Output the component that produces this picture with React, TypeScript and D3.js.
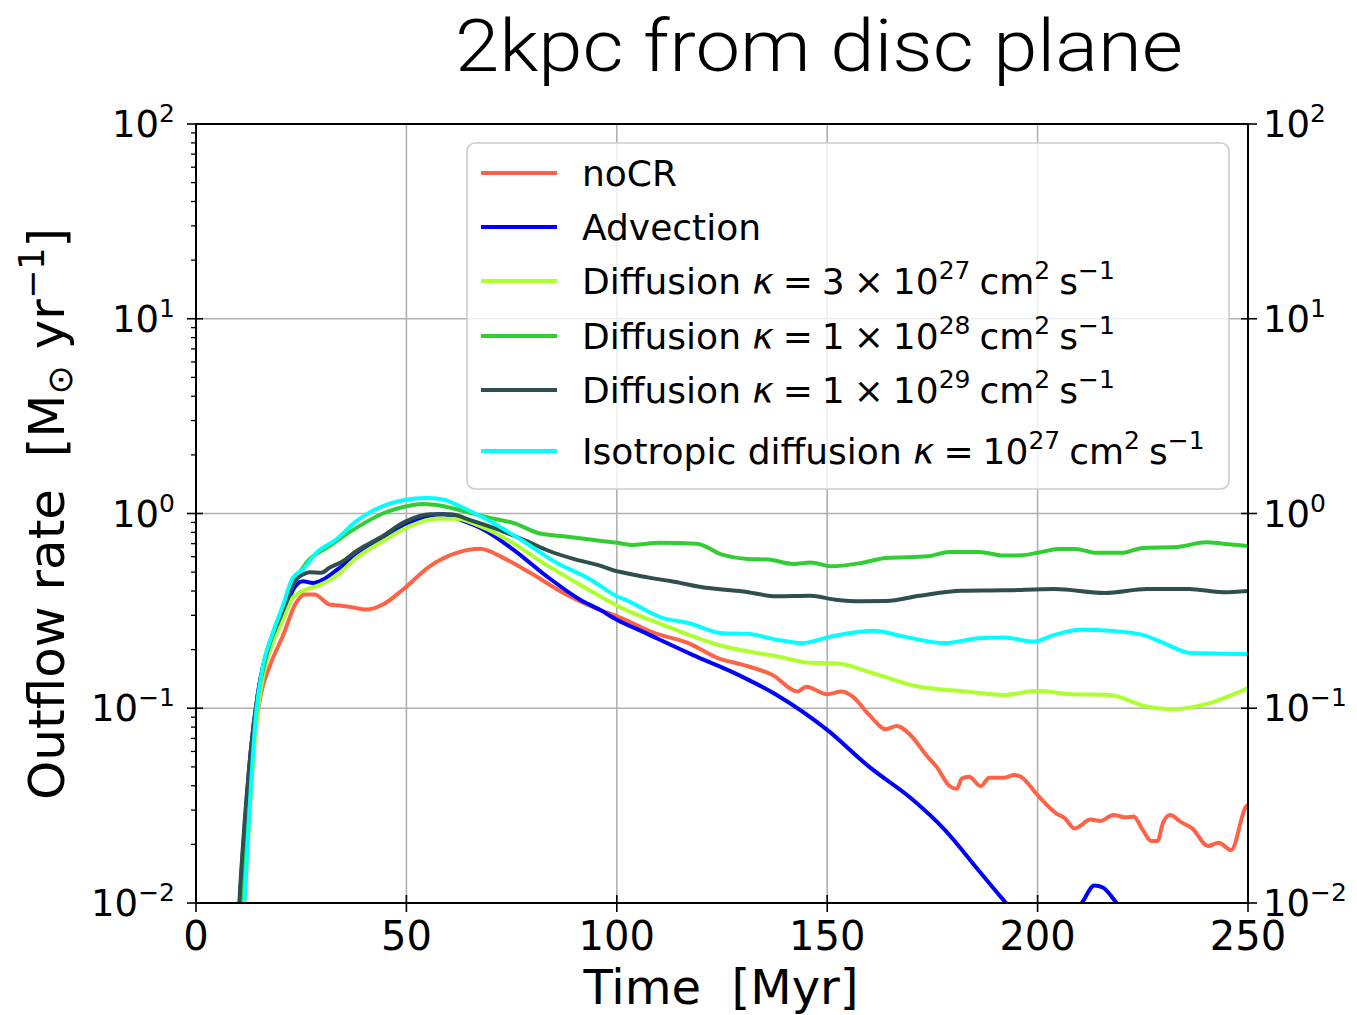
import React from 'react';
import * as d3 from 'd3';

type P = [number, number];

const xTickValues = [0, 50, 100, 150, 200, 250];
const yExponents = [-2, -1, 0, 1, 2];
const yMinorMantissas = [2, 3, 4, 5, 6, 7, 8, 9];

const noCR: P[] = [
  [10.3, 0.006], [10.8, 0.01], [12, 0.025], [13.5, 0.06], [15.5, 0.12], [17.5, 0.164], [20.6, 0.234],
  [23.8, 0.348], [25.8, 0.384], [28.2, 0.384], [31.7, 0.341], [34.1, 0.337], [37, 0.33], [40.5, 0.321],
  [44.4, 0.341], [49.2, 0.407], [55.6, 0.537], [61.9, 0.628], [67.5, 0.66], [73, 0.592], [79.4, 0.496],
  [87.3, 0.391], [96, 0.32], [100, 0.297], [109, 0.243], [117, 0.216], [124, 0.181], [130, 0.167],
  [137, 0.148], [143, 0.122], [145, 0.129], [150, 0.118], [153.5, 0.122], [156, 0.115], [160, 0.0924],
  [164, 0.078], [166.5, 0.081], [170, 0.072], [173.5, 0.0575], [176, 0.05], [179, 0.04], [180.8, 0.0386],
  [182, 0.0436], [183.7, 0.0445], [186.5, 0.0398], [188.5, 0.044], [192, 0.044], [194.5, 0.0454],
  [196, 0.0445], [200, 0.0358], [204.5, 0.0288], [206.5, 0.0272], [208.8, 0.0241], [210, 0.0248],
  [212.5, 0.0268], [215, 0.0264], [218, 0.0283], [221, 0.0275], [222.8, 0.0278], [225, 0.0237],
  [227, 0.0208], [228.5, 0.0208], [229.8, 0.0258], [231.5, 0.0283], [234, 0.0261], [236.8, 0.0241],
  [240.5, 0.0196], [243, 0.0204], [246, 0.0187], [249.5, 0.0312], [250, 0.032],
];

const advection: P[] = [
  [9.9, 0.006], [10.4, 0.01], [11.6, 0.025], [13, 0.06], [15, 0.13], [17, 0.2], [19, 0.26], [21.5, 0.34],
  [23.5, 0.42], [25.4, 0.449], [27.8, 0.44], [30.2, 0.458], [34.1, 0.526], [39.7, 0.641], [45.2, 0.765],
  [51.6, 0.914], [55.6, 0.977], [58.7, 0.99], [62.7, 0.93], [68.3, 0.828], [75.4, 0.653], [83.3, 0.477],
  [91.3, 0.361], [96, 0.32], [100, 0.285], [106, 0.248], [118, 0.188], [129, 0.148], [138, 0.117],
  [150, 0.0774], [160, 0.05], [170, 0.0344], [178, 0.0237], [186, 0.0147], [192.5, 0.01], [196, 0.0082],
  [202, 0.0072], [207, 0.0082], [210.5, 0.01], [213.5, 0.0123], [215.5, 0.012], [218.8, 0.01],
  [224, 0.0075], [235, 0.006], [250, 0.005],
];

const diff3e27: P[] = [
  [11.1, 0.006], [11.6, 0.01], [12.8, 0.03], [14.5, 0.09], [16, 0.15], [18, 0.21], [20.5, 0.28],
  [23, 0.369], [26.2, 0.407], [28.6, 0.423], [33.3, 0.477], [38.1, 0.592], [44.4, 0.721], [50.8, 0.861],
  [57.1, 0.939], [61.9, 0.939], [67.5, 0.861], [74.6, 0.721], [82.5, 0.558], [90.5, 0.44], [96, 0.376],
  [102, 0.321], [111, 0.268], [124, 0.212], [131, 0.196], [138, 0.185], [146, 0.171], [152, 0.17],
  [161, 0.151], [171, 0.13], [183, 0.122], [192, 0.117], [200, 0.123], [208, 0.118], [217, 0.117],
  [226, 0.102], [232, 0.0989], [240, 0.105], [250, 0.127],
];

const diff1e28: P[] = [
  [10.6, 0.006], [11.1, 0.01], [12.3, 0.03], [14, 0.09], [16, 0.16], [18.5, 0.25], [21, 0.34], [23.5, 0.45],
  [26.2, 0.558], [31.7, 0.68], [38.1, 0.844], [44.4, 1.0], [49.2, 1.08], [54, 1.12], [57.9, 1.1],
  [63.5, 1.03], [69.8, 0.95], [75.4, 0.895], [81.7, 0.79], [87.3, 0.765], [93.7, 0.735], [100, 0.707],
  [104, 0.69], [110, 0.707], [119, 0.7], [125, 0.615], [131, 0.584], [136, 0.58], [142, 0.551],
  [146, 0.56], [151, 0.536], [158, 0.557], [164, 0.591], [174, 0.603], [179, 0.635], [186, 0.635],
  [192, 0.608], [196, 0.61], [200, 0.628], [205, 0.658], [209, 0.658], [214, 0.628], [220, 0.628],
  [225, 0.666], [233, 0.673], [240, 0.712], [244, 0.7], [250, 0.68],
];

const diff1e29: P[] = [
  [9.8, 0.006], [10.3, 0.01], [11.5, 0.025], [13, 0.06], [15, 0.13], [17, 0.2], [19, 0.26], [21.5, 0.35],
  [23.5, 0.45], [25.4, 0.486], [27, 0.5], [29.8, 0.497], [31.7, 0.526], [34.9, 0.569], [38.1, 0.641],
  [43.7, 0.75], [50, 0.914], [55.6, 0.99], [60.3, 0.99], [65.9, 0.914], [71.4, 0.834], [78.6, 0.721],
  [84.1, 0.64], [89.7, 0.585], [96, 0.54], [100, 0.506], [102, 0.495], [109, 0.463], [113, 0.449],
  [120, 0.419], [130, 0.398], [138, 0.376], [146, 0.378], [152, 0.361], [158, 0.354], [164, 0.355],
  [172, 0.378], [182, 0.401], [192, 0.403], [204, 0.41], [216, 0.391], [226, 0.41], [236, 0.41],
  [244, 0.394], [250, 0.4],
];

const isotropic: P[] = [
  [11, 0.006], [11.5, 0.01], [12.5, 0.025], [14.3, 0.0946], [15.9, 0.164], [18.3, 0.244], [20.6, 0.334],
  [23, 0.467], [25.4, 0.515], [28.6, 0.628], [33.3, 0.735], [38.1, 0.914], [44.4, 1.09], [49.2, 1.17],
  [54.8, 1.2], [58.7, 1.18], [63.5, 1.07], [69.8, 0.914], [77.8, 0.72], [85.7, 0.558], [93.7, 0.458],
  [96, 0.426], [100, 0.376], [102, 0.361], [111, 0.29], [117, 0.274], [125, 0.243], [131, 0.241],
  [138, 0.225], [144, 0.216], [151, 0.234], [161, 0.25], [168, 0.234], [178, 0.216], [186, 0.229],
  [192, 0.231], [199, 0.22], [204, 0.238], [210, 0.253], [218, 0.249], [225, 0.238], [230, 0.216],
  [236, 0.193], [250, 0.19],
];

const seriesNames = ['noCR', 'Advection', 'Diffusion', 'Diffusion', 'Diffusion', 'Isotropic diffusion'];
const seriesColors = ['#FF6347', '#0000FF', '#ADFF2F', '#32CD32', '#2F4F4F', '#00FFFF'];
const seriesData = [noCR, advection, diff3e27, diff1e28, diff1e29, isotropic];
const kappaCoeff = [null, null, '3', '1', '1', ''];
const kappaExp = [null, null, '27', '28', '29', '27'];

const FONT = "'DejaVu Sans', 'Bitstream Vera Sans', sans-serif";
const SP = '\u2005';

export default function App() {
  const L = 196, R = 1248, T = 124, B = 903;
  const x = d3.scaleLinear().domain([0, 250]).range([L, R]);
  const y = d3.scaleLog().domain([0.01, 100]).range([B, T]);
  const line = d3.line<P>().x(d => x(d[0])).y(d => y(d[1])).curve(d3.curveMonotoneX);

  const grid = '#b0b0b0';
  const minor: number[] = [];
  yExponents.slice(0, -1).forEach(e => yMinorMantissas.forEach(m => minor.push(m * Math.pow(10, e))));

  const expLabel = (e: number) => (e < 0 ? '\u2212' + Math.abs(e) : String(e));

  const legendLineY = [173, 227, 281, 336, 390, 451];
  const fs = 36;
  const supFs = 25;

  return (
    <svg width={1357} height={1015} style={{ position: 'absolute', left: 0, top: 0, background: '#fff' }}
      fontFamily={FONT}>
      <defs>
        <clipPath id="plotclip"><rect x={L} y={T} width={R - L} height={B - T} /></clipPath>
      </defs>
      <rect x={0} y={0} width={1357} height={1015} fill="#fff" />

      {/* grid */}
      {xTickValues.slice(1, -1).map(v => (
        <line key={'gx' + v} x1={x(v)} x2={x(v)} y1={T} y2={B} stroke={grid} strokeWidth={1.6} />
      ))}
      {yExponents.slice(1, -1).map(e => (
        <line key={'gy' + e} x1={L} x2={R} y1={y(Math.pow(10, e))} y2={y(Math.pow(10, e))} stroke={grid} strokeWidth={1.6} />
      ))}

      {/* series */}
      <g clipPath="url(#plotclip)">
        {seriesData.map((d, i) => (
          <path key={'s' + i} d={line(d) || ''} fill="none" stroke={seriesColors[i]} strokeWidth={4}
            strokeLinejoin="round" strokeLinecap="butt" />
        ))}
      </g>

      {/* spines */}
      <rect x={L} y={T} width={R - L} height={B - T} fill="none" stroke="#000" strokeWidth={2} />

      {/* x ticks */}
      {xTickValues.map(v => (
        <g key={'xt' + v}>
          <line x1={x(v)} x2={x(v)} y1={B - 8} y2={B + 9} stroke="#000" strokeWidth={1.6} />
          <text x={x(v)} y={950} fontSize={40} textAnchor="middle" fill="#000">{v}</text>
        </g>
      ))}

      {/* y ticks */}
      {yExponents.map(e => {
        const yy = y(Math.pow(10, e));
        return (
          <g key={'yt' + e}>
            <line x1={L - 9} x2={L + 7} y1={yy} y2={yy} stroke="#000" strokeWidth={1.6} />
            <line x1={R - 7} x2={R + 9} y1={yy} y2={yy} stroke="#000" strokeWidth={1.6} />
            <text x={175} y={yy + 13} fontSize={37} textAnchor="end" fill="#000">
              10<tspan dy={-15} fontSize={supFs}>{expLabel(e)}</tspan>
            </text>
            <text x={1263} y={yy + 13} fontSize={37} textAnchor="start" fill="#000">
              10<tspan dy={-15} fontSize={supFs}>{expLabel(e)}</tspan>
            </text>
          </g>
        );
      })}
      {minor.map((v, i) => (
        <line key={'ym' + i} x1={L - 5} x2={L} y1={y(v)} y2={y(v)} stroke="#000" strokeWidth={1.3} />
      ))}

      {/* axis labels */}
      <text x={721} y={1004} fontSize={48} textAnchor="middle" fill="#000" style={{ whiteSpace: 'pre' }}>
        {'Time  [Myr]'}
      </text>
      <text transform="translate(64,514) rotate(-90)" fontSize={50} textAnchor="middle" fill="#000"
        style={{ whiteSpace: 'pre' }}>
        {'Outflow rate  [M'}<tspan dy={8} fontSize={35}>{'\u2299'}</tspan><tspan dy={-8}>{' yr'}</tspan>
        <tspan dy={-20} fontSize={35}>{'\u22121'}</tspan><tspan dy={20}>]</tspan>
      </text>

      {/* title */}
      <text x={455} y={71} fontSize={72} fontFamily="Roboto, 'Liberation Sans', Arial, sans-serif" fontWeight={300}
        textLength={728} lengthAdjust="spacingAndGlyphs" fill="#000">2kpc from disc plane</text>

      {/* legend */}
      <rect x={467} y={143} width={762} height={346} rx={8} ry={8} fill="rgba(255,255,255,0.8)"
        stroke="#cccccc" strokeWidth={1.6} />
      {seriesNames.map((name, i) => {
        const ly = legendLineY[i];
        return (
          <g key={'lg' + i}>
            <line x1={481} x2={557} y1={ly} y2={ly} stroke={seriesColors[i]} strokeWidth={4} />
            <text x={582} y={ly + 13} fontSize={fs} fill="#000" style={{ whiteSpace: 'pre' }}>
              {name}
              {kappaExp[i] !== null && (
                <>
                  <tspan>{' '}</tspan>
                  <tspan fontStyle="italic">κ</tspan>
                  <tspan>{kappaCoeff[i] ? `${SP}=${SP}${kappaCoeff[i]}${SP}\u00d7${SP}10` : `${SP}=${SP}10`}</tspan>
                  <tspan dy={-15} fontSize={supFs}>{kappaExp[i]}</tspan>
                  <tspan dy={15}>{`${SP}cm`}</tspan>
                  <tspan dy={-15} fontSize={supFs}>2</tspan>
                  <tspan dy={15}>{`${SP}s`}</tspan>
                  <tspan dy={-15} fontSize={supFs}>{'\u22121'}</tspan>
                </>
              )}
            </text>
          </g>
        );
      })}
    </svg>
  );
}
